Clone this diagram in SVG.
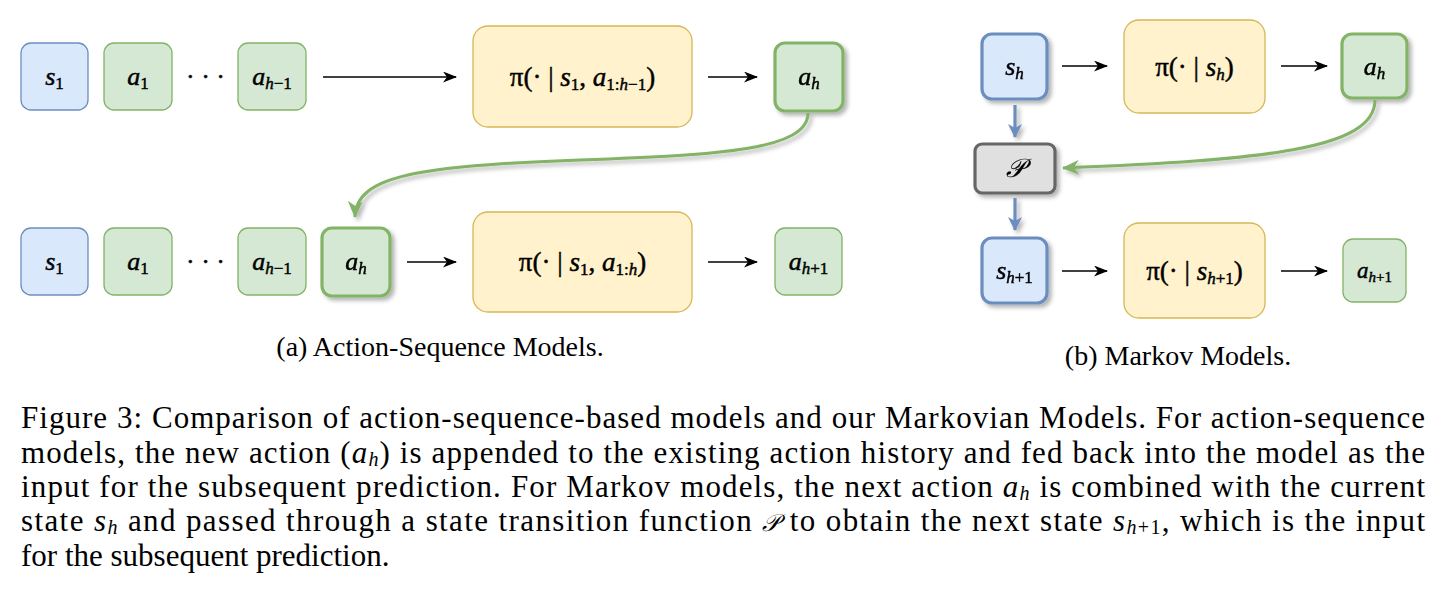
<svg xmlns="http://www.w3.org/2000/svg" width="1442" height="596" viewBox="0 0 1442 596">
<style>
.m{font-family:"Liberation Serif","Times New Roman",serif;font-size:26px;fill:#000;stroke:#000;stroke-width:0.45}
.p{font-size:27px}
.i{font-style:italic}
.sb{font-size:17px}
.cap{font-family:"Liberation Serif","Times New Roman",serif;font-size:31px;fill:#000}
.cs{font-size:20px}
.sc{font-family:"Liberation Serif","Times New Roman",serif;font-size:28px;fill:#000}
.blue{fill:#dae8fc;stroke:#6c8ebf;stroke-width:1.3}
.green{fill:#d5e8d4;stroke:#82b366;stroke-width:1.3}
.yel{fill:#fff2cc;stroke:#d6b656;stroke-width:1.3}
.thick{stroke-width:3.2}
.gray{fill:#e0e0e0;stroke:#666666;stroke-width:3.2}
.ar{stroke:#000;stroke-width:1.6;fill:none;marker-end:url(#ab)}
.ga{stroke:#82b366;stroke-width:3;fill:none;marker-end:url(#ag)}
.ba{stroke:#6c8ebf;stroke-width:3.2;fill:none;marker-end:url(#abl)}
</style>
<defs>
<filter id="sh" x="-30%" y="-30%" width="170%" height="170%">
<feDropShadow dx="3" dy="3" stdDeviation="2.2" flood-color="#000" flood-opacity="0.3"/>
</filter>
<filter id="shu" filterUnits="userSpaceOnUse" x="0" y="0" width="1442" height="596">
<feDropShadow dx="3" dy="3" stdDeviation="2.2" flood-color="#000" flood-opacity="0.3"/>
</filter>
<marker id="ab" viewBox="0 0 14 11" refX="13" refY="5.5" markerWidth="14" markerHeight="11" markerUnits="userSpaceOnUse" orient="auto">
<path d="M0,0 L14,5.5 L0,11 L4,5.5 Z" fill="#000"/>
</marker>
<marker id="ag" viewBox="0 0 17 15" refX="16" refY="7.5" markerWidth="17" markerHeight="15" markerUnits="userSpaceOnUse" orient="auto">
<path d="M0,0 L17,7.5 L0,15 L5,7.5 Z" fill="#82b366"/>
</marker>
<marker id="abl" viewBox="0 0 14 14" refX="13" refY="7" markerWidth="14" markerHeight="14" markerUnits="userSpaceOnUse" orient="auto">
<path d="M0,0 L14,7 L0,14 L4,7 Z" fill="#6c8ebf"/>
</marker>
</defs>

<!-- (a) Action-sequence models, row 1 -->
<g id="a_s1_top"><rect class="blue" x="21" y="43" width="67" height="67" rx="10"/>
<text class="m" x="54.5" y="85" text-anchor="middle"><tspan class="i">s</tspan><tspan class="sb" dy="4">1</tspan></text></g>
<g id="a_a1_top"><rect class="green" x="104" y="43" width="68" height="67" rx="10"/>
<text class="m" x="138" y="85" text-anchor="middle"><tspan class="i">a</tspan><tspan class="sb" dy="4">1</tspan></text></g>
<g id="a_dots_top"><text class="m" x="205.5" y="85" text-anchor="middle">· · ·</text></g>
<g id="a_ahm1_top"><rect class="green" x="238" y="43" width="68" height="67" rx="10"/>
<text class="m" x="272" y="85" text-anchor="middle"><tspan class="i">a</tspan><tspan class="sb" dy="4"><tspan class="i">h</tspan>−1</tspan></text></g>
<g id="a_pi_top"><rect class="yel" x="473" y="26" width="219" height="101" rx="15"/>
<text class="m p" x="582.5" y="86" text-anchor="middle">π(· | <tspan class="i">s</tspan><tspan class="sb" dy="4">1</tspan><tspan dy="-4">, </tspan><tspan class="i">a</tspan><tspan class="sb" dy="4">1:<tspan class="i">h</tspan>−1</tspan><tspan dy="-4">)</tspan></text></g>
<g id="a_ah_top" filter="url(#sh)"><rect class="green thick" x="775" y="43" width="68" height="68" rx="10"/>
<text class="m" x="809" y="85" text-anchor="middle"><tspan class="i">a</tspan><tspan class="sb i" dy="4">h</tspan></text></g>

<!-- (a) row 2 -->
<g id="a_s1_bot"><rect class="blue" x="21" y="228" width="67" height="67" rx="10"/>
<text class="m" x="54.5" y="270" text-anchor="middle"><tspan class="i">s</tspan><tspan class="sb" dy="4">1</tspan></text></g>
<g id="a_a1_bot"><rect class="green" x="104" y="228" width="68" height="67" rx="10"/>
<text class="m" x="138" y="270" text-anchor="middle"><tspan class="i">a</tspan><tspan class="sb" dy="4">1</tspan></text></g>
<g id="a_dots_bot"><text class="m" x="205.5" y="270" text-anchor="middle">· · ·</text></g>
<g id="a_ahm1_bot"><rect class="green" x="238" y="228" width="68" height="67" rx="10"/>
<text class="m" x="272" y="270" text-anchor="middle"><tspan class="i">a</tspan><tspan class="sb" dy="4"><tspan class="i">h</tspan>−1</tspan></text></g>
<g id="a_ah_bot" filter="url(#sh)"><rect class="green thick" x="322" y="228" width="68" height="68" rx="10"/>
<text class="m" x="356" y="270" text-anchor="middle"><tspan class="i">a</tspan><tspan class="sb i" dy="4">h</tspan></text></g>
<g id="a_pi_bot"><rect class="yel" x="473" y="212" width="219" height="100" rx="15"/>
<text class="m p" x="582.5" y="271" text-anchor="middle">π(· | <tspan class="i">s</tspan><tspan class="sb" dy="4">1</tspan><tspan dy="-4">, </tspan><tspan class="i">a</tspan><tspan class="sb" dy="4">1:<tspan class="i">h</tspan></tspan><tspan dy="-4">)</tspan></text></g>
<g id="a_ahp1_bot"><rect class="green" x="775" y="228" width="67" height="67" rx="10"/>
<text class="m" x="808.5" y="270" text-anchor="middle"><tspan class="i">a</tspan><tspan class="sb" dy="4"><tspan class="i">h</tspan>+1</tspan></text></g>

<!-- (b) Markov models -->
<g id="b_sh" filter="url(#sh)"><rect class="blue thick" x="982" y="34" width="65" height="65" rx="10"/>
<text class="m" x="1014.5" y="75" text-anchor="middle"><tspan class="i">s</tspan><tspan class="sb i" dy="4">h</tspan></text></g>
<g id="b_pi_top"><rect class="yel" x="1124" y="20" width="141" height="93" rx="15"/>
<text class="m p" x="1194.5" y="76" text-anchor="middle">π(· | <tspan class="i">s</tspan><tspan class="sb i" dy="4">h</tspan><tspan dy="-4">)</tspan></text></g>
<g id="b_ah" filter="url(#sh)"><rect class="green thick" x="1342" y="34" width="65" height="64" rx="10"/>
<text class="m" x="1374.5" y="75" text-anchor="middle"><tspan class="i">a</tspan><tspan class="sb i" dy="4">h</tspan></text></g>
<g id="b_P" filter="url(#sh)"><rect class="gray" x="975" y="144" width="80" height="49" rx="7"/>
<text class="m" x="1015" y="177" text-anchor="middle" font-size="24" font-style="italic" style="stroke-width:0.2">𝒫</text></g>
<g id="b_sh1" filter="url(#sh)"><rect class="blue thick" x="982" y="238" width="65" height="65" rx="10"/>
<text class="m" x="1014.5" y="279" text-anchor="middle"><tspan class="i">s</tspan><tspan class="sb" dy="4"><tspan class="i">h</tspan>+1</tspan></text></g>
<g id="b_pi_bot"><rect class="yel" x="1124" y="223" width="141" height="95" rx="15"/>
<text class="m p" x="1194.5" y="280" text-anchor="middle">π(· | <tspan class="i">s</tspan><tspan class="sb" dy="4"><tspan class="i">h</tspan>+1</tspan><tspan dy="-4">)</tspan></text></g>
<g id="b_ahp1"><rect class="green" x="1343" y="239" width="63" height="63" rx="10"/>
<text class="m" x="1374.5" y="278" text-anchor="middle" style="font-size:23px"><tspan class="i">a</tspan><tspan style="font-size:15px" dy="4"><tspan class="i">h</tspan>+1</tspan></text></g>

<!-- connectors -->
<g id="connectors">
<path class="ar" d="M323,77 L456,77"/>
<path class="ar" d="M708,77 L757,77"/>
<path class="ar" d="M407,262 L456,262"/>
<path class="ar" d="M708,262 L757,262"/>
<path class="ar" d="M1062,66 L1107,66"/>
<path class="ar" d="M1281,66 L1327,66"/>
<path class="ar" d="M1062,271 L1107,271"/>
<path class="ar" d="M1281,271 L1327,271"/>
<path class="ga" filter="url(#shu)" d="M808,113 C808,150 720,155 580,160 C420,166 356,175 355,217"/>
<path class="ga" filter="url(#shu)" d="M1375,100 C1375,150 1260,160 1063,168"/>
<path class="ba" filter="url(#shu)" d="M1015,105 L1015,137"/>
<path class="ba" filter="url(#shu)" d="M1015,198 L1015,230"/>
</g>

<!-- sub-captions -->
<text class="sc" x="440" y="356" text-anchor="middle">(a) Action-Sequence Models.</text>
<text class="sc" x="1178" y="365" text-anchor="middle">(b) Markov Models.</text>

<!-- figure caption -->
<text class="cap" x="21" y="428" textLength="1404" lengthAdjust="spacing">Figure 3: Comparison of action-sequence-based models and our Markovian Models. For action-sequence</text>
<text class="cap" x="21" y="462.5" textLength="1404" lengthAdjust="spacing">models, the new action (<tspan class="i">a</tspan><tspan class="cs i" dy="3">h</tspan><tspan dy="-3">) is appended to the existing action history and fed back into the model as the</tspan></text>
<text class="cap" x="21" y="497" textLength="1404" lengthAdjust="spacing">input for the subsequent prediction. For Markov models, the next action <tspan class="i">a</tspan><tspan class="cs i" dy="3">h</tspan><tspan dy="-3"> is combined with the current</tspan></text>
<text class="cap" x="21" y="531" textLength="1404" lengthAdjust="spacing">state <tspan class="i">s</tspan><tspan class="cs i" dy="3">h</tspan><tspan dy="-3"> and passed through a state transition function </tspan><tspan class="i" font-size="24">𝒫</tspan> to obtain the next state <tspan class="i">s</tspan><tspan class="cs" dy="3"><tspan class="i">h</tspan>+1</tspan><tspan dy="-3">, which is the input</tspan></text>
<text class="cap" x="21" y="565.5">for the subsequent prediction.</text>
</svg>
